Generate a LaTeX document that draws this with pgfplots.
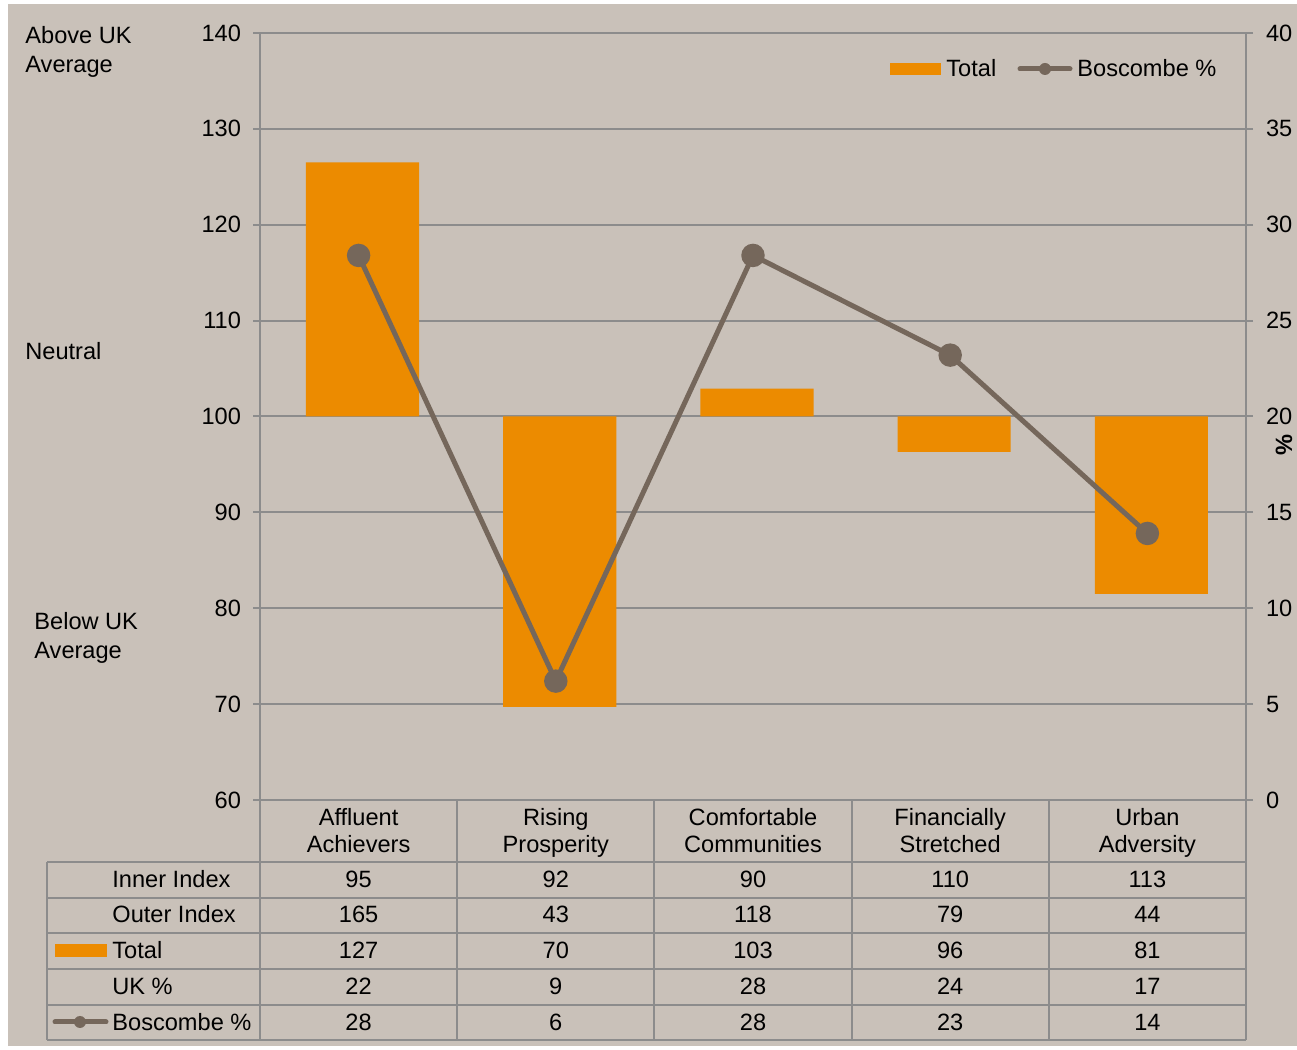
\documentclass[border=0pt]{standalone}
\usepackage{pgfplots}
\pgfplotsset{compat=1.18}
\usepackage{pgfplotstable}
\usepackage{fontspec}
\setmainfont{Liberation Sans}
\definecolor{bg}{RGB}{201,193,185}
\definecolor{barc}{RGB}{236,139,0}
\definecolor{lnc}{RGB}{117,103,91}
\definecolor{grd}{RGB}{140,140,140}

\pgfplotstableread{
x total bosc
0.5 126.5 28.4
1.5 69.7 6.2
2.5 102.9 28.4
3.5 96.3 23.2
4.5 81.5 13.9
}\data

\begin{document}
\begin{tikzpicture}[font=\fontsize{11.8}{13.5}\selectfont]
\path[use as bounding box] (0,0) rectangle (648.5pt,525pt);
\fill[white] (0,0) rectangle (648.5pt,525pt);
\fill[bg] (4pt,2pt) rectangle (648.5pt,523pt);

\pgfplotsset{
  common/.style={
    at={(130pt,125pt)}, anchor=south west,
    scale only axis, width=493pt, height=383.5pt,
    xmin=0, xmax=5, axis x line=none,
    separate axis lines,
    y axis line style={-, draw=grd, line width=1pt},
    ytick align=outside, major tick length=3.5pt,
    every tick/.style={grd, line width=1pt},
    tick label style={font=\fontsize{11.8}{13.5}\selectfont},
    /pgf/number format/assume math mode=true,
    clip=false,
  }
}

\begin{axis}[common,
  axis y line*=left,
  ymin=-40, ymax=40, ytick={-40,-30,...,40},
  yticklabel={\pgfmathtruncatemacro\v{\tick+100}\v},
  yticklabel style={xshift=-2.5pt},
  ymajorgrids, grid style={grd, line width=1pt},
]
\addplot[ybar, bar width=0.574, bar shift=0pt, fill=barc, draw=none]
  table[x expr=\thisrow{x}+0.02, y expr=\thisrow{total}-100] {\data};
\end{axis}

\begin{axis}[common,
  axis y line*=right,
  ymin=0, ymax=40, ytick={0,5,...,40},
  yticklabel style={anchor=west, xshift=3pt},
]
\addplot[lnc, line width=2.5pt, mark=*, mark size=4.6pt,
  mark options={solid, fill=lnc, draw=none}]
  table[x=x, y=bosc] {\data};
\end{axis}

\begin{scope}[x=0.5pt, y=-0.5pt, yshift=525pt]
  % legend
  \fill[barc] (890,63) rectangle (941,75);
  \node[anchor=base west, inner sep=0pt] at (946,77) {Total};
  \draw[lnc, line width=2.5pt, line cap=round] (1020,69) -- (1070,69);
  \fill[lnc] (1045,69) circle (6);
  \node[anchor=base west, inner sep=0pt] at (1077,77) {Boscombe \%};

  % side labels
  \node[anchor=base west, inner sep=0pt] at (25,44) {Above UK};
  \node[anchor=base west, inner sep=0pt] at (25,73) {Average};
  \node[anchor=base west, inner sep=0pt] at (25,360) {Neutral};
  \node[anchor=base west, inner sep=0pt] at (34,630) {Below UK};
  \node[anchor=base west, inner sep=0pt] at (34,659) {Average};
  \node[rotate=90, inner sep=0pt, font=\fontsize{11.8}{13.5}\selectfont\bfseries] at (1284,445) {\%};

  % table grid
  \foreach \xx in {260,457.2,654.4,851.6,1048.8,1246}
    \draw[grd, line width=1pt] (\xx,800) -- (\xx,1040);
  \draw[grd, line width=1pt] (47,862) -- (47,1040);
  \foreach \yy in {862,898,933,969,1005,1040}
    \draw[grd, line width=1pt] (47,\yy) -- (1246,\yy);

  % category labels
  \foreach \cx/\la/\lb in {358.6/Affluent/Achievers,555.8/Rising/Prosperity,753/Comfortable/Communities,950.2/Financially/Stretched,1147.4/Urban/Adversity}{
    \node[anchor=base, inner sep=0pt] at (\cx,826) {\la};
    \node[anchor=base, inner sep=0pt] at (\cx,853) {\lb};
  }

  % row labels
  \node[anchor=base west, inner sep=0pt] at (112,888) {Inner Index};
  \node[anchor=base west, inner sep=0pt] at (112,923) {Outer Index};
  \node[anchor=base west, inner sep=0pt] at (112,959) {Total};
  \node[anchor=base west, inner sep=0pt] at (112,995) {UK \%};
  \node[anchor=base west, inner sep=0pt] at (112,1031) {Boscombe \%};
  \fill[barc] (55,944) rectangle (107,957);
  \draw[lnc, line width=2.5pt, line cap=round] (55,1022) -- (106,1022);
  \fill[lnc] (80,1022) circle (6);

  % values
  \foreach \cx/\a/\b/\c/\d/\e in {358.6/95/165/127/22/28, 555.8/92/43/70/9/6, 753/90/118/103/28/28, 950.2/110/79/96/24/23, 1147.4/113/44/81/17/14}{
    \node[anchor=base, inner sep=0pt] at (\cx,888) {\a};
    \node[anchor=base, inner sep=0pt] at (\cx,923) {\b};
    \node[anchor=base, inner sep=0pt] at (\cx,959) {\c};
    \node[anchor=base, inner sep=0pt] at (\cx,995) {\d};
    \node[anchor=base, inner sep=0pt] at (\cx,1031) {\e};
  }
\end{scope}
\end{tikzpicture}
\end{document}
